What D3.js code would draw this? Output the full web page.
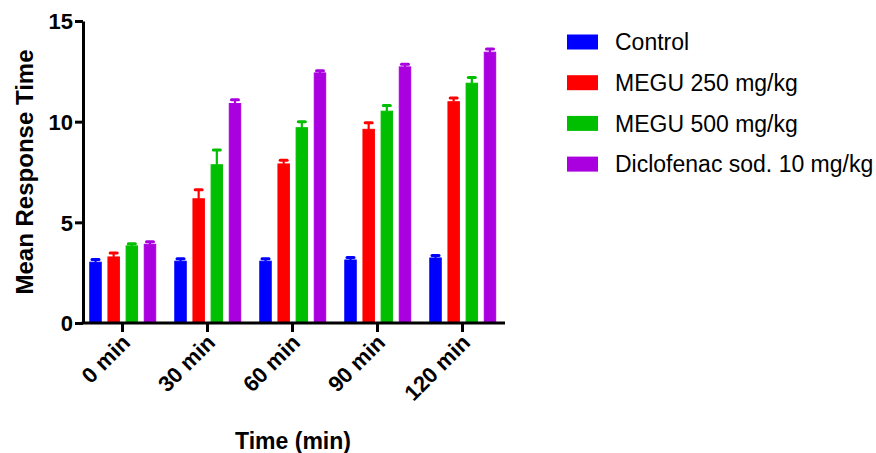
<!DOCTYPE html>
<html>
<head>
<meta charset="utf-8">
<script src="https://cdn.jsdelivr.net/npm/d3@7/dist/d3.min.js"></script>
<style>
  html, body { margin: 0; padding: 0; background: #fff; }
  svg { display: block; font-family: "Liberation Sans", Arial, sans-serif; }
</style>
</head>
<body>
<svg id="chart" width="876" height="453"></svg>
<script>
const categories = ["0 min", "30 min", "60 min", "90 min", "120 min"];
const seriesNames = ["Control", "MEGU 250 mg/kg", "MEGU 500 mg/kg", "Diclofenac sod. 10 mg/kg"];
const seriesColors = ["#0000FF", "#FF0000", "#00BF00", "#AA00E0"];
const controlMean = [3.02, 3.07, 3.07, 3.13, 3.23];
const controlErr  = [0.14, 0.12, 0.12, 0.12, 0.12];
const megu250Mean = [3.28, 6.17, 7.90, 9.62, 10.99];
const megu250Err  = [0.20, 0.45, 0.18, 0.33, 0.19];
const megu500Mean = [3.83, 7.86, 9.70, 10.52, 11.91];
const megu500Err  = [0.11, 0.73, 0.30, 0.28, 0.28];
const dicloMean   = [3.91, 10.90, 12.42, 12.72, 13.45];
const dicloErr    = [0.13, 0.19, 0.11, 0.13, 0.16];
const yTicks = [0, 5, 10, 15];
const yTitle = "Mean Response Time";
const xTitle = "Time (min)";

const means = [controlMean, megu250Mean, megu500Mean, dicloMean];
const errs = [controlErr, megu250Err, megu500Err, dicloErr];

const svg = d3.select("#chart");

const x0 = d3.scaleBand().domain(categories).range([80, 505]).paddingInner(0).paddingOuter(0);
const x1 = d3.scaleBand().domain(seriesNames).range([9.3, 76.2]).paddingInner(0.315).paddingOuter(0);
const y = d3.scaleLinear().domain([0, 15]).range([323, 21]);

const data = [];
categories.forEach((c, ci) => {
  seriesNames.forEach((s, si) => {
    data.push({ cat: c, ser: s, color: seriesColors[si], mean: means[si][ci], err: errs[si][ci] });
  });
});

const bw = x1.bandwidth();
const gBars = svg.append("g");
gBars.selectAll("rect").data(data).join("rect")
  .attr("x", d => x0(d.cat) + x1(d.ser) + 0.5)
  .attr("y", d => y(d.mean))
  .attr("width", bw - 1)
  .attr("height", d => y(0) - y(d.mean))
  .attr("fill", d => d.color)
  .attr("stroke", d => d.color)
  .attr("stroke-width", 1);

// error bars (upper only)
const gErr = svg.append("g");
gErr.selectAll("line.stem").data(data).join("line")
  .attr("class", "stem")
  .attr("x1", d => x0(d.cat) + x1(d.ser) + bw / 2)
  .attr("x2", d => x0(d.cat) + x1(d.ser) + bw / 2)
  .attr("y1", d => y(d.mean))
  .attr("y2", d => y(d.mean + d.err))
  .attr("stroke", d => d.color)
  .attr("stroke-width", 2.2);
gErr.selectAll("line.cap").data(data).join("line")
  .attr("class", "cap")
  .attr("x1", d => x0(d.cat) + x1(d.ser) + bw / 2 - 3.5)
  .attr("x2", d => x0(d.cat) + x1(d.ser) + bw / 2 + 3.5)
  .attr("y1", d => y(d.mean + d.err))
  .attr("y2", d => y(d.mean + d.err))
  .attr("stroke", d => d.color)
  .attr("stroke-width", 3)
  .attr("stroke-linecap", "round");

// Y axis
const yAxis = svg.append("g")
  .attr("transform", "translate(83,0)")
  .call(d3.axisLeft(y).tickValues(yTicks).tickSize(8).tickSizeOuter(0).tickPadding(2));
yAxis.select(".domain").attr("stroke", "#000").attr("stroke-width", 3);
yAxis.selectAll(".tick line").attr("stroke", "#000").attr("stroke-width", 3);
yAxis.selectAll(".tick text")
  .attr("fill", "#000")
  .style("font-family", "'Liberation Sans', Arial, sans-serif")
  .style("font-size", "22px")
  .style("font-weight", "bold")
  .attr("dy", "0.36em");

// X axis
const xAxis = svg.append("g")
  .attr("transform", "translate(0,323)")
  .call(d3.axisBottom(x0).tickSize(9).tickSizeOuter(0));
xAxis.select(".domain").attr("d", "M81.5,0H505").attr("stroke", "#000").attr("stroke-width", 3);
xAxis.selectAll(".tick line").attr("stroke", "#000").attr("stroke-width", 3);
xAxis.selectAll(".tick text")
  .attr("fill", "#000")
  .style("font-family", "'Liberation Sans', Arial, sans-serif")
  .style("font-size", "22px")
  .style("font-weight", "bold")
  .attr("text-anchor", "end")
  .attr("y", 0)
  .attr("dy", 0)
  .attr("transform", "translate(9,21) rotate(-45)");

// Axis titles
svg.append("text")
  .attr("transform", "translate(33,172) rotate(-90)")
  .attr("text-anchor", "middle")
  .style("font-size", "24px")
  .style("font-weight", "bold")
  .attr("fill", "#000")
  .text(yTitle);

svg.append("text")
  .attr("x", 293)
  .attr("y", 449)
  .attr("text-anchor", "middle")
  .style("font-size", "23px")
  .style("font-weight", "bold")
  .attr("fill", "#000")
  .text(xTitle);

// Legend
const legend = svg.append("g").attr("transform", "translate(567,42)");
const rows = legend.selectAll("g").data(seriesNames).join("g")
  .attr("transform", (d, i) => `translate(0,${i * 40.7})`);
rows.append("rect")
  .attr("x", 0).attr("y", -7.5).attr("width", 31).attr("height", 15)
  .attr("fill", (d, i) => seriesColors[i]);
rows.append("text")
  .attr("x", 48).attr("y", 0).attr("dy", "0.36em")
  .style("font-size", "23px")
  .attr("fill", "#000")
  .text(d => d);
</script>
</body>
</html>
